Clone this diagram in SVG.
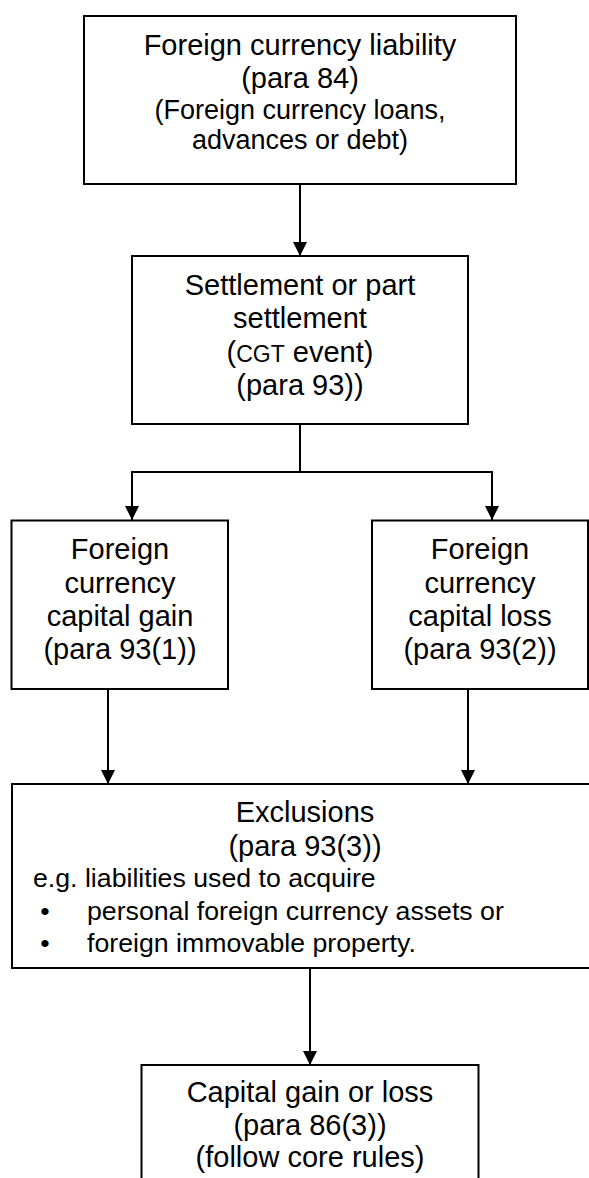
<svg xmlns="http://www.w3.org/2000/svg" width="589" height="1178" viewBox="0 0 589 1178">
<defs>
<marker id="ah" markerWidth="14" markerHeight="14" refX="14" refY="7" orient="auto" markerUnits="userSpaceOnUse">
<path d="M0,0 L14,7 L0,14 Z" fill="#000"/>
</marker>
<style>
.box{fill:#fff;stroke:#000;stroke-width:2}
.c{fill:none;stroke:#000;stroke-width:2}
text{font-family:"Liberation Sans",Arial,sans-serif;fill:#000}
.t{font-size:29px;text-anchor:middle}
.s{font-size:27px;text-anchor:middle}
.l{font-size:26.7px}
</style>
</defs>
<rect width="589" height="1178" fill="#fff"/>
<g id="connectors">
<line class="c" x1="300" y1="184" x2="300" y2="256" marker-end="url(#ah)"/>
<polyline class="c" points="300,424 300,472 132,472 132,520" marker-end="url(#ah)"/>
<polyline class="c" points="300,472 492,472 492,520" marker-end="url(#ah)"/>
<line class="c" x1="108" y1="689" x2="108" y2="784" marker-end="url(#ah)"/>
<line class="c" x1="468" y1="689" x2="468" y2="784" marker-end="url(#ah)"/>
<line class="c" x1="310" y1="968" x2="310" y2="1065" marker-end="url(#ah)"/>
</g>
<g id="liability">
<rect class="box" x="84" y="16" width="432" height="168"/>
<text class="t" x="300" y="55">Foreign currency liability</text>
<text class="t" x="300" y="88">(para 84)</text>
<text class="s" x="300" y="119">(Foreign currency loans,</text>
<text class="s" x="300" y="149">advances or debt)</text>
</g>
<g id="settlement">
<rect class="box" x="132" y="256" width="336" height="168"/>
<text class="t" x="300" y="295">Settlement or part</text>
<text class="t" x="300" y="328">settlement</text>
<text class="t" x="300" y="362">(<tspan font-size="23px">CGT</tspan> event)</text>
<text class="t" x="300" y="395">(para 93))</text>
</g>
<g id="gain">
<rect class="box" x="11.5" y="520.5" width="216.5" height="168.5"/>
<text class="t" x="120" y="559">Foreign</text>
<text class="t" x="120" y="593">currency</text>
<text class="t" x="120" y="626">capital gain</text>
<text class="t" x="120" y="659">(para 93(1))</text>
</g>
<g id="loss">
<rect class="box" x="372" y="520.5" width="216" height="168.5"/>
<text class="t" x="480" y="559">Foreign</text>
<text class="t" x="480" y="593">currency</text>
<text class="t" x="480" y="626">capital loss</text>
<text class="t" x="480" y="659">(para 93(2))</text>
</g>
<g id="exclusions">
<rect class="box" x="12" y="784" width="600" height="184"/>
<text class="t" x="305" y="822">Exclusions</text>
<text class="t" x="305" y="856">(para 93(3))</text>
<text class="l" x="33" y="887">e.g. liabilities used to acquire</text>
<text class="l" x="45" y="920" text-anchor="middle">•</text>
<text class="l" x="87" y="920">personal foreign currency assets or</text>
<text class="l" x="45" y="952" text-anchor="middle">•</text>
<text class="l" x="87" y="952">foreign immovable property.</text>
</g>
<g id="result">
<rect class="box" x="141.5" y="1065" width="337" height="130"/>
<text class="t" x="310" y="1102">Capital gain or loss</text>
<text class="t" x="310" y="1135">(para 86(3))</text>
<text class="t" x="310" y="1167">(follow core rules)</text>
</g>
</svg>
